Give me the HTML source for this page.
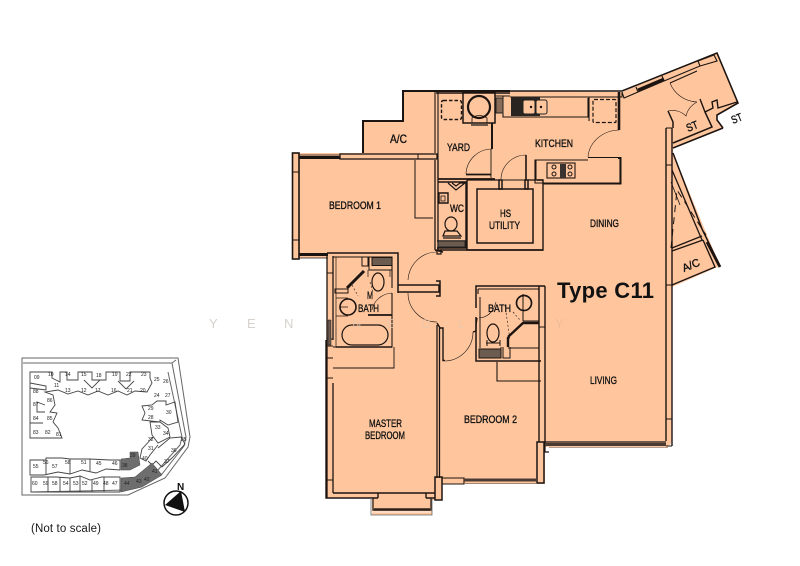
<!DOCTYPE html>
<html><head><meta charset="utf-8"><style>
html,body{margin:0;padding:0;background:#fff}
svg{display:block}
text{font-family:"Liberation Sans",sans-serif}
.l{font-size:11px;fill:#111;stroke:#111;stroke-width:.35}
.s{font-size:5px;fill:#222}
</style></head><body>
<svg width="800" height="566" viewBox="0 0 800 566" xmlns="http://www.w3.org/2000/svg">
<rect width="800" height="566" fill="#fff"/>
<!-- main fill -->
<path d="M403 91H510L622 92L717 53L738 103L717 115V120L723 128L673 148L673 153L720 266L672 287V442L668 447H545V484H442V500H432V515H372V498H326L327 258H293V153H363V121H403Z" fill="#FFC69E"/>
<g fill="none" stroke="#1c1410" stroke-width="1.4" stroke-linejoin="miter">
<!-- outer top -->
<path d="M363 153V121H403V91H510" stroke-width="2"/>
<path d="M436 93H510M510 91H622L717 53L738 103L717 115V120L723 128" stroke-width="1.6"/>
<path d="M622 92V97H510" stroke-width="1"/>
<path d="M622 92L624 98L638 92L636 87M638 92L664 81L662 76M664 81L700 66L698 61M698 61L714 55L717 61L700 66" stroke-width="1.1"/>
<path d="M638 90L664 79" stroke-width="3"/>
<!-- ST -->
<path d="M723 128L673 148" stroke-width="1.5"/>
<path d="M737 102L718 108L717 100L712 102L713 108L705 112L700 99" stroke-width="1.4"/>
<path d="M705 112L712 127L673 143M668 111L673 122V128" stroke-width="1.5"/>
<path d="M670 83L697 71" stroke-width="1.2"/>
<path d="M670 83A30 30 0 0 0 697 102" stroke-width=".6"/>
<path d="M668 111A19 19 0 0 1 686 116Q688 107 697 102" stroke-width=".6"/>
<!-- bedroom 1 -->
<rect x="292.500" y="153" width="6.500" height="106" stroke-width="1.6"/>
<path d="M292 172H299M292 240H299" stroke-width="1"/>
<path d="M299 155H340" stroke-width=".7"/>
<path d="M299 157.500H340" stroke-width="3"/>
<rect x="340" y="154" width="97" height="5" stroke-width="1.3"/>
<path d="M418 154V159" stroke-width="1"/>
<path d="M299 254.500H328" stroke-width="3"/>
<path d="M299 258H328" stroke-width=".7"/>
<path d="M415 160V218H433" stroke-width="1"/>
<path d="M435 160V250M438 160V251" stroke-width="1.3"/>
<path d="M435 250L443 252" stroke-width="1.5"/>
<!-- A/C yard wall -->
<path d="M435 92V153M438 92V179" stroke-width="1.1"/>
<rect x="463" y="92" width="32" height="31" stroke-width="1.5"/>
<circle cx="479" cy="107" r="11" stroke-width="2.200"/>
<path d="M472 118Q479 113 487 118V123H472Z" stroke-width=".8"/>
<rect x="441.500" y="100.500" width="20" height="19" rx="2" stroke-dasharray="3.500 2" stroke-width="1.4"/>
<path d="M471 125H488" stroke-width="2" stroke="#6b5a4c"/>
<path d="M492 123V149" stroke-width="2"/>
<path d="M491 149V178" stroke-width=".9"/>
<path d="M492 149A26 26 0 0 0 466 174" stroke-width=".6"/>
<path d="M466 174.500H491" stroke-width="1.800"/>
<path d="M438 179H495" stroke-width="1.800"/>
<path d="M495 92V123M495 96H510M503 96V116" stroke-width="1"/>
<!-- kitchen door -->
<path d="M526 155V180" stroke-width="1.6"/>
<path d="M526 155A25 25 0 0 0 501 179" stroke-width=".6"/>
<path d="M501 180H543" stroke-width="1"/>
<path d="M536 160V180" stroke-width="1"/>
<!-- HS -->
<path d="M467 180V250H543V180H537" stroke-width="1.400"/>
<rect x="477" y="189" width="56" height="54" stroke-width="1.500"/>
<rect x="499" y="180" width="3" height="9" stroke-width="1.500"/>
<rect x="525" y="180" width="3" height="9" stroke-width="1.500"/>
<path d="M467 180H500" stroke-width="1.300"/>
<path d="M528 180H543" stroke-width="1.300"/>
<!-- WC -->
<path d="M438 182H466V247" stroke-width="1.400"/>
<path d="M437 241H466V248H437" stroke-width="1.400"/>
<path d="M448 183L456 190L465 183H460L456 186L452 183" stroke-width="1.200"/>
<path d="M439 193H448V203H439Z" stroke-width="1.400"/>
<rect x="441" y="196" width="4" height="5" stroke-width=".8"/>
<ellipse cx="451" cy="224" rx="6" ry="7" stroke-width="1.200"/>
<path d="M443 236L445 231H457L461 236Z" stroke-width="1.200"/>
<path d="M443 238H461" stroke-width="1.200"/>
<path d="M440 250H543" stroke-width="1.400"/>
<!-- kitchen -->
<path d="M503 114V117H588V98M589 97V121" stroke-width="1.100"/>
<path d="M589 97V121" stroke-width="1"/>
<rect x="593" y="99.500" width="23" height="23" rx="1" stroke-dasharray="4 2" stroke-width="1.200"/>
<path d="M619 92V130" stroke-width="2.600"/>
<path d="M619 130A32 29 0 0 0 588 157" stroke-width=".6"/>
<path d="M588 157.500H620V183H535V160H588" stroke-width="1.100"/>
<path d="M618 158H620.500V183.500H543" stroke-width="2"/>
<rect x="547" y="163" width="28" height="15" stroke-width="1.100"/>
<circle cx="554" cy="167" r="2" stroke-width="1"/>
<circle cx="554" cy="174" r="2" stroke-width="1"/>
<circle cx="570" cy="167" r="2" stroke-width="1"/>
<circle cx="570" cy="174" r="2" stroke-width="1"/>
<!-- right wall -->
<path d="M666 128V441M672 128V446" stroke-width="1.400"/>
<path d="M666 128H672M666 165H672M666 285H672M666 419H672M666 446H672" stroke-width="1"/>
<!-- balcony -->
<path d="M673 153L702 229L720 266" stroke-width="1.500"/>
<path d="M707 242L720 267" stroke-width="2.800"/>
<path d="M672 170L702 240M672 248L702 236M672 251L703 240" stroke-width="1.300"/>
<path d="M671 248L677 190L706 235" stroke-width="1" stroke-dasharray="7 5"/>
<path d="M671 182L680 205" stroke-width=".8"/>
<path d="M703 240L715 267L672 285" stroke-width="1.400"/>
<!-- Master bath -->
<path d="M327 253H398V293" stroke-width="1.500"/>
<path d="M327 253V498" stroke-width="1.300"/>
<path d="M333 256V340M333 383V493" stroke-width="1.300"/>
<path d="M327 273H333M327 339H333M327 346H333M327 358H333M327 378H333M327 480H333" stroke-width="1"/>
<path d="M333 257H392V288M392 293V347H333" stroke-width="1.100"/>
<path d="M336 257V347" stroke-width=".7"/>
<path d="M398 285H439V292H398" stroke-width="1.500"/>
<path d="M436 281H440V296H436" stroke-width="1.500"/>
<path d="M347 288L364 271" stroke-width="3"/>
<path d="M362 257V266H368V257M369 257V270H392" stroke-width="1"/>
<rect x="372" y="257.500" width="20" height="8" fill="#6c5c50" stroke-width="1"/>
<ellipse cx="378" cy="282" rx="6" ry="9" stroke-width="1.200"/>
<path d="M368 270V277M390 270V277" stroke-width=".7"/>
<path d="M335 289H348V293H335Z" stroke-width="1"/>
<circle cx="348" cy="307" r="8" stroke-width="1.600"/>
<path d="M340 307H348M336 298H348M336 316H348" stroke-width=".7"/>
<path d="M352 285L358 296M370 282L373 292" stroke-width=".6" stroke-dasharray="2 2"/>
<path d="M392 293A22 20 0 0 0 372 310" stroke-width=".6"/>
<path d="M368 315H392" stroke-width="1.800"/>
<rect x="342" y="325" width="46" height="20" rx="10" stroke-width="1.200"/>
<path d="M336 347H392" stroke-width="1.600"/>
<path d="M328 320H331V345H328Z" fill="#6c5c50" stroke-width=".5"/>
<path d="M333 368H394V347" stroke-width=".9"/>
<!-- centre doors -->
<path d="M437 252A29 30 0 0 0 408 280" stroke-width=".6"/>
<path d="M408 293A29 29 0 0 0 437 322" stroke-width=".6"/>
<path d="M437 250H441V254H437Z" stroke-width="1.200"/>
<path d="M437 325V478M439.500 328V478" stroke-width="1.300"/>
<path d="M437 323L440 328H443V360.500H445" stroke-width="1.400"/>
<path d="M445 361A29 29 0 0 0 473 332" stroke-width=".6"/>
<!-- bath 2 -->
<path d="M476 308V286H545" stroke-width="1.500"/>
<path d="M476 317V361H541" stroke-width="1.500"/>
<path d="M478 289H539V298M478 289V294" stroke-width="1.100"/>
<path d="M539 286V442M545 286V443" stroke-width="1.400"/>
<path d="M539 327H545" stroke-width="1"/>
<path d="M473 332L476 331V325L477 318" stroke-width="1.300"/>
<path d="M479 318Q492 317 496 302" stroke-width=".6"/>
<path d="M508 337L523 323H539M508 337V347" stroke-width="2.400"/>
<path d="M508 348H539" stroke-width="1"/>
<path d="M523 321H539M523 294V321" stroke-width="1"/>
<circle cx="524" cy="303" r="7.500" stroke-width="1.700"/>
<ellipse cx="493" cy="333" rx="6" ry="9" stroke-width="1.200"/>
<path d="M486 343H500M487 340V346M500 340V346" stroke-width="1"/>
<path d="M479 349H501V358H479Z" fill="#6c5c50" stroke-width="1"/>
<path d="M503 347V358H510V347" stroke-width="1"/>
<path d="M480 297V348M501 347V358" stroke-width="1"/>
<path d="M505 305L510 340M513 312L520 320" stroke-width=".6" stroke-dasharray="2 2"/>
<path d="M497 362V381H541" stroke-width="1.100"/>
<!-- bottom -->
<rect x="537" y="442" width="7" height="41" stroke-width="1.500"/>
<path d="M545 442V452H549M545 442H666" stroke-width="1.200"/>
<path d="M545 444.500H666" stroke-width="3" stroke="#4a3c32"/>
<path d="M549 447.500H668" stroke-width=".8" stroke="#9a8070"/>
<rect x="435" y="477" width="7" height="23" stroke-width="1.500"/>
<path d="M442 478H464V484H442" stroke-width="1.100"/>
<path d="M464 480H537" stroke-width="3" stroke="#4a3c32"/>
<path d="M464 483.500H537" stroke-width=".7" stroke="#8a7060"/>
<path d="M326 340V498H333M333 493H378V498M378 493H426V498M426 493H435M326 498H378M426 498H435" stroke-width="1.400"/>
<path d="M373 498V510H431V498" stroke-width="1.200"/>
<path d="M374 509.500H430" stroke-width="2.600" stroke="#2b211a"/>
<path d="M371 498V515H432V498" stroke-width=".8" stroke="#666"/>
<path d="M372 512H431" stroke-width=".8" stroke="#fff"/>
</g>
<!-- fixtures dark -->
<rect x="511" y="97" width="29" height="19" fill="#2a2420"/>
<rect x="523" y="100" width="12" height="14" rx="2" fill="#FFC69E" stroke="#222"/>
<rect x="536" y="100" width="11" height="14" rx="2" fill="#FFC69E" stroke="#222"/>
<circle cx="531" cy="107" r="1.200" fill="#111"/><circle cx="541" cy="107" r="1.200" fill="#111"/>
<rect x="496" y="98" width="7" height="15" fill="#8a6d58" stroke="#222"/>
<rect x="560" y="164" width="6" height="14" fill="#3a3330"/>
<rect x="438" y="241" width="27" height="6" fill="#6c5c50" stroke="#222"/>
<!-- labels -->
<g class="l">
<text x="390" y="143" textLength="17" lengthAdjust="spacingAndGlyphs" font-size="12">A/C</text>
<text x="447" y="151" textLength="23" lengthAdjust="spacingAndGlyphs">YARD</text>
<text x="535" y="147" textLength="38" lengthAdjust="spacingAndGlyphs">KITCHEN</text>
<text x="329" y="209" textLength="52" lengthAdjust="spacingAndGlyphs">BEDROOM 1</text>
<text x="450" y="212" textLength="14" lengthAdjust="spacingAndGlyphs">WC</text>
<text x="500" y="217" textLength="11" lengthAdjust="spacingAndGlyphs">HS</text>
<text x="489" y="229" textLength="31" lengthAdjust="spacingAndGlyphs">UTILITY</text>
<text x="590" y="227" textLength="29" lengthAdjust="spacingAndGlyphs">DINING</text>
<text x="367" y="299" textLength="6" lengthAdjust="spacingAndGlyphs">M</text>
<text x="358" y="312" textLength="21" lengthAdjust="spacingAndGlyphs">BATH</text>
<text x="488" y="312" textLength="23" lengthAdjust="spacingAndGlyphs">BATH</text>
<text x="590" y="384" textLength="27" lengthAdjust="spacingAndGlyphs">LIVING</text>
<text x="369" y="427" textLength="33" lengthAdjust="spacingAndGlyphs">MASTER</text>
<text x="365" y="439" textLength="40" lengthAdjust="spacingAndGlyphs">BEDROOM</text>
<text x="464" y="423" textLength="53" lengthAdjust="spacingAndGlyphs">BEDROOM 2</text>
<text transform="translate(688 132) rotate(-22)" textLength="12" lengthAdjust="spacingAndGlyphs">ST</text>
<text transform="translate(733 124) rotate(-22)" textLength="11" lengthAdjust="spacingAndGlyphs">ST</text>
<text transform="translate(684 272) rotate(-22)" textLength="18" lengthAdjust="spacingAndGlyphs">A/C</text>
</g>
<text x="557" y="298" font-size="22" font-weight="bold" fill="#111" textLength="97">Type C11</text>
<!-- watermark -->
<g font-size="13" fill="#c9c2bc" opacity=".75">
<text x="209" y="328">Y</text><text x="247" y="328">E</text><text x="284" y="328">N</text>
<text x="352" y="328" fill="#e9c6ac">N</text><text x="387" y="328" fill="#e9c6ac">E</text><text x="421" y="328" fill="#e9c6ac">O</text><text x="458" y="328" fill="#e9c6ac">L</text><text x="555" y="328" fill="#e9b898">Y</text>
</g>
<!-- site plan -->
<g fill="none" stroke="#666" stroke-width="1">
<path d="M22 358H178L190 437L188 447L165 478L128 495H22Z"/>
<path d="M23 363H172L176 360M172 363L186 437L184 446L162 474L127 490L31 492"/>
<path d="M168 372L182 437L180 445L158 470"/>
</g>
<g fill="none" stroke="#444" stroke-width=".9">
<!-- top row + left column -->
<path d="M30 372H50M52 372V378L60 382V372H67V380H78V372H92V380H106V372H120V381H130V372H150V378L152 383L147 392L135 391L127 395L118 391L108 395L98 391L88 395L78 391L68 394L58 390L45 392L53 395L55 405L50 412L57 413L53 422L58 428L62 438H30V372Z"/>
<path d="M30 383L46 386V390L30 388M30 423H43M45 405L37 402V412H45M84 380L92 388L100 380M118 381L126 389L134 381"/>
<!-- right block -->
<path d="M142 406L152 405L157 401L166 401V405L175 402L178 422L168 425L160 420V422L142 420L145 413Z"/>
<path d="M150 422L160 422L168 428L170 437L158 443L152 435Z"/>
<path d="M153 437L142 449L140 458L146 461L150 455L158 445"/>
<path d="M158 448L170 438L181 437L185 444L172 458L162 467L156 461L152 465L148 461"/>
<!-- bottom rows -->
<path d="M30 460H46V458H62L70 459H90L110 460H120V470L106 469L96 473L82 470L70 474L58 472L44 475H30Z"/>
<path d="M31 477H56L70 478L80 476L90 480L102 477H120V492H31Z"/>
<path d="M48 477V492M60 477V492M70 478V492M80 476V492M92 480V492M104 477V492M46 460V475M70 459V474M90 459V471"/>
</g>
<g fill="#6e6e6e" stroke="#444" stroke-width=".5">
<path d="M121 459L130 458V452L138 452L140 465L130 470H121Z"/>
<path d="M121 478L135 477L152 463L158 470L162 475L142 487L121 492Z"/>
</g>
<g class="s" stroke="none">
<text x="34" y="379">09</text><text x="48" y="376">10</text><text x="65" y="376">14</text><text x="81" y="376">15</text><text x="96" y="377">18</text><text x="112" y="376">19</text><text x="126" y="376">22</text><text x="141" y="376">23</text>
<text x="154" y="381">25</text><text x="163" y="383">26</text><text x="54" y="387">11</text><text x="65" y="392">13</text><text x="81" y="392">12</text><text x="95" y="392">17</text><text x="111" y="392">16</text><text x="127" y="392">21</text><text x="140" y="392">20</text>
<text x="154" y="397">24</text><text x="165" y="397">27</text><text x="33" y="393">88</text><text x="33" y="406">87</text><text x="47" y="402">86</text><text x="33" y="420">84</text><text x="47" y="420">85</text><text x="33" y="434">83</text><text x="45" y="434">82</text><text x="56" y="436">81</text>
<text x="148" y="410">29</text><text x="148" y="419">28</text><text x="166" y="414">30</text><text x="155" y="429">33</text><text x="163" y="435">34</text><text x="148" y="441">32</text><text x="148" y="450">31</text><text x="181" y="441">35</text><text x="171" y="452">36</text><text x="164" y="463">37</text>
<text x="33" y="468">55</text><text x="43" y="464">56</text><text x="52" y="468">57</text><text x="65" y="464">58</text><text x="81" y="464">51</text><text x="96" y="465">45</text><text x="112" y="465">46</text><text x="122" y="467">38</text><text x="130" y="457">39</text><text x="142" y="460">40</text>
<text x="32" y="485">60</text><text x="43" y="485">59</text><text x="52" y="485">58</text><text x="63" y="485">54</text><text x="73" y="485">53</text><text x="82" y="485">52</text><text x="93" y="485">49</text><text x="103" y="485">48</text><text x="112" y="485">47</text><text x="124" y="485">44</text><text x="136" y="483">43</text><text x="144" y="481">42</text><text x="152" y="473">41</text>
</g>
<!-- compass -->
<circle cx="176" cy="503" r="12" fill="#fff" stroke="#111" stroke-width="1.500"/>
<path d="M181 491L165 505L185 512Z" fill="#111"/>
<text x="177" y="490" font-size="10" font-weight="bold" fill="#111">N</text>
<text x="31" y="532" font-size="11.500" fill="#1a1a1a" textLength="70">(Not to scale)</text>
</svg>
</body></html>
